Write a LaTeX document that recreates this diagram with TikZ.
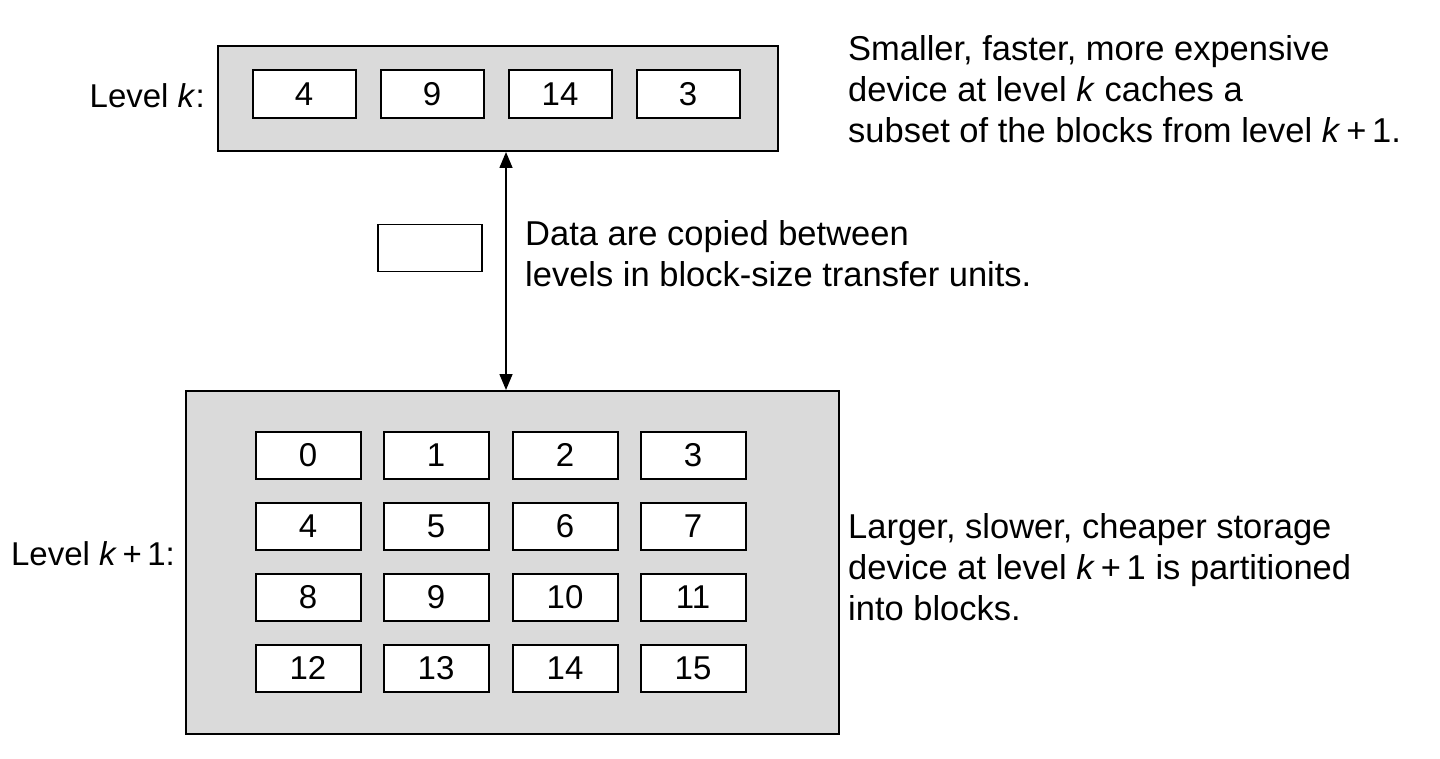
\documentclass[tikz,border=0pt]{standalone}
\usepackage{fontspec}
\setmainfont{Liberation Sans}
\usetikzlibrary{arrows.meta}
\definecolor{boxgray}{RGB}{218,218,218}
\begin{document}
\begin{tikzpicture}[x=1pt,y=-1pt,
  every node/.style={font=\fontsize{33}{41}\selectfont},
  level/.style={draw=black, line width=2pt, fill=boxgray, inner sep=0pt, anchor=north west},
  blk/.style={draw=black, line width=2pt, fill=white, inner sep=0pt, minimum width=103pt, minimum height=48pt},
  txt/.style={inner sep=0pt, anchor=base west, align=left, font=\fontsize{34.5}{41}\selectfont},
  lbl/.style={inner sep=0pt, anchor=base east},
  conn/.style={line width=1.5pt, {Triangle[length=16pt,width=13pt]}-{Triangle[length=16pt,width=13pt]}}
]
\useasboundingbox (0,0) rectangle (1440,759);
\fill[white] (0,0) rectangle (1440,759);

% top level
\node[level, minimum width=560pt, minimum height=105pt] (top) at (217,45) {};
\node[blk] (t4) at (304,94) {4};
\node[blk] (t9) at (432,94) {9};
\node[blk] (t14) at (560,94) {14};
\node[blk] (t3) at (688,94) {3};
\node[lbl] (lk) at (205,108) {Level \textit{k}:};

% bottom level
\node[level, minimum width=653pt, minimum height=343pt] (bot) at (185,390) {};
\foreach \r/\y in {0/455,1/526,2/597,3/668}{
  \foreach \c/\x in {0/308,1/436,2/565,3/693}{
    \pgfmathtruncatemacro{\n}{4*\r+\c}
    \node[blk, minimum width=105pt, minimum height=47pt] (b\n) at (\x,\y) {\n};
  }
}
\node[lbl] (lk1) at (175,565) {Level \textit{k}\,+\,1:};

% transfer
\coordinate (ax) at (506,0);
\draw[conn] (ax |- top.south) -- (ax |- bot.north);
\node[draw=black, line width=1.5pt, fill=white, minimum width=104pt, minimum height=47pt, inner sep=0pt] (unit) at (430,248) {};
\node[txt] (dtxt) at (525,287) {Data are copied between\\levels in block-size transfer units.};

% right texts
\node[txt] (ttxt) at (848,143) {Smaller, faster, more expensive\\device at level \textit{k} caches a\\subset of the blocks from level \textit{k}\,+\,1.};
\node[txt] (btxt) at (848,620) {Larger, slower, cheaper storage\\device at level \textit{k}\,+\,1 is partitioned\\into blocks.};
\end{tikzpicture}
\end{document}
